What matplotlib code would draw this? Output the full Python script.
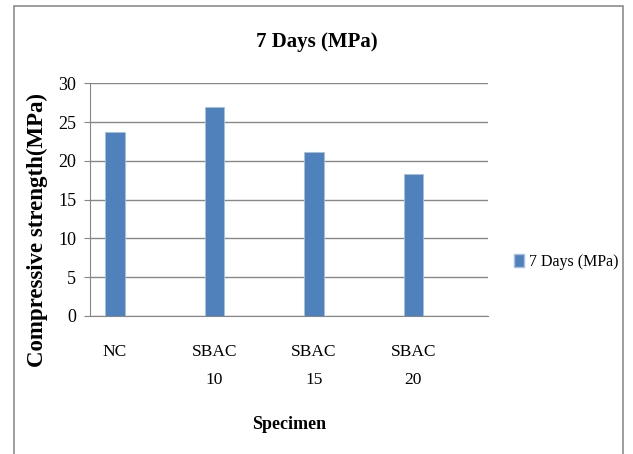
import matplotlib.pyplot as plt
from matplotlib.patches import Patch, Rectangle

# data
specimens = ['NC', 'SBAC\n10', 'SBAC\n15', 'SBAC\n20']
strength_7d = [23.7, 26.9, 21.1, 18.3]
series_name = '7 Days (MPa)'

bar_color = '#4F81BD'
grid_color = '#878787'

plt.rcParams['font.family'] = ['Liberation Serif', 'DejaVu Serif']

fig = plt.figure(figsize=(6.33, 4.54), dpi=100)
ax = fig.add_axes([90/633, 1 - 316/454, 398/633, 232.7/454])

x = list(range(len(specimens)))
ax.bar(x, strength_7d, width=0.195, color=bar_color, edgecolor='#A7BFDE', linewidth=0.6, zorder=3)

ax.set_xlim(-0.25, 3.75)
ax.set_ylim(0, 30)
ax.set_yticks(range(0, 31, 5))
ax.set_xticks(x)
ax.set_xticklabels(specimens, fontsize=12.5, linespacing=2.0)
ax.tick_params(axis='x', length=0, pad=20)
ax.tick_params(axis='y', length=4, color=grid_color, labelsize=13, pad=6)
ax.grid(axis='y', color=grid_color, linewidth=1, zorder=0)

for side in ['top', 'right']:
    ax.spines[side].set_visible(False)
ax.spines['left'].set_color(grid_color)
ax.spines['bottom'].set_color(grid_color)

ax.set_ylabel('Compressive strength(MPa)', fontsize=16.5, fontweight='bold')
ax.yaxis.set_label_coords(-0.105, 0.37)
ax.set_xlabel('Specimen', fontsize=13, fontweight='bold', labelpad=20)

fig.suptitle(series_name, fontsize=15, fontweight='bold', y=1 - 42/454, va='center')

handle = Patch(facecolor=bar_color, edgecolor='#A7BFDE', label=series_name)
fig.legend(handles=[handle], loc='center left', bbox_to_anchor=(500/633, 1 - 262/454),
           frameon=False, fontsize=11.5, handlelength=0.6, handleheight=0.8, handletextpad=0.3)

# outer chart border (open at the bottom, as in the cropped picture)
fig.patches.append(Rectangle((14/633, -0.05), (623 - 14)/633, 1.05 - 6/454,
                             transform=fig.transFigure, fill=False,
                             edgecolor='#8C8C8C', linewidth=1.2))

fig.savefig('out.png', dpi=100)
